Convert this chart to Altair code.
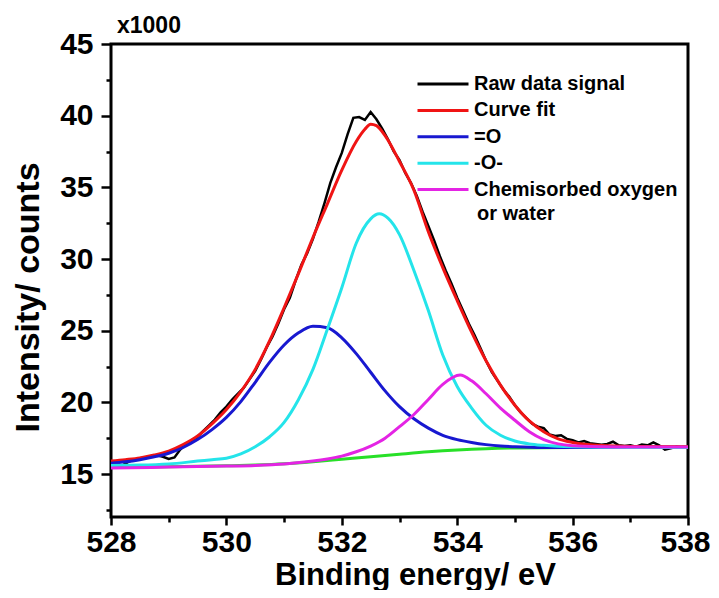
import altair as alt
import pandas as pd

# ---- data (intensity in units of 1000 counts) ----
raw_x = [528.0, 528.1, 528.2, 528.3, 528.4, 528.5, 528.6, 528.7, 528.8, 528.9,
         529.0, 529.1, 529.2, 529.3, 529.4, 529.5, 529.6, 529.7, 529.8, 529.9,
         530.0, 530.1, 530.2, 530.3, 530.4, 530.5, 530.6, 530.7, 530.8, 530.9,
         531.0, 531.1, 531.2, 531.3, 531.4, 531.5, 531.6, 531.7, 531.8, 531.9,
         532.0, 532.1, 532.2, 532.3, 532.4, 532.5, 532.6, 532.7, 532.8, 532.9,
         533.0, 533.1, 533.2, 533.3, 533.4, 533.5, 533.6, 533.7, 533.8, 533.9,
         534.0, 534.1, 534.2, 534.3, 534.4, 534.5, 534.6, 534.7, 534.8, 534.9,
         535.0, 535.1, 535.2, 535.3, 535.4, 535.5, 535.6, 535.7, 535.8, 535.9,
         536.0, 536.1, 536.2, 536.3, 536.4, 536.5, 536.6, 536.7, 536.8, 536.9,
         537.0, 537.1, 537.2, 537.3, 537.4, 537.5, 537.6, 537.7, 537.8, 537.9,
         538.0]
raw_y = [15.5, 15.45, 15.6, 15.85, 16.0, 16.1, 16.15, 16.25, 16.3, 16.2,
         16.05, 16.15, 16.7, 17.1, 17.35, 17.6, 18.0, 18.4, 18.8, 19.3,
         19.7, 20.2, 20.6, 21.0, 21.6, 22.2, 23.0, 23.85, 24.6, 25.5,
         26.5, 27.3, 28.5, 29.6, 30.4, 31.4, 32.6, 33.9, 35.3, 36.4,
         37.4, 38.7, 39.85, 39.9, 39.7, 40.25, 39.75, 39.1, 38.35, 37.5,
         36.9, 36.0, 35.3, 34.4, 33.3, 32.3, 31.3, 30.2, 29.2, 28.3,
         27.3, 26.4, 25.5, 24.7, 23.8, 22.9, 22.1, 21.5, 20.9, 20.4,
         19.8, 19.3, 18.9, 18.5, 18.3, 18.2, 17.75, 17.65, 17.7, 17.45,
         17.35, 17.2, 17.3, 17.15, 17.1, 17.05, 17.1, 17.25, 17.0, 16.95,
         17.0, 16.9, 17.05, 17.0, 17.2, 17.0, 16.7, 16.8, 16.9, 16.85,
         16.85]

fit_x = [528, 528.25, 528.5, 528.75, 529, 529.25, 529.5, 529.75, 530, 530.25,
         530.5, 530.75, 531, 531.25, 531.5, 531.75, 532, 532.25, 532.4, 532.5,
         532.6, 532.75, 533, 533.25, 533.5, 533.75, 534, 534.25, 534.5, 534.75,
         535, 535.25, 535.5, 535.75, 536, 536.5, 537, 538]
fit_y = [15.9, 16.0, 16.12, 16.32, 16.6, 17.05, 17.65, 18.5, 19.5, 20.75,
         22.3, 24.3, 26.6, 29.0, 31.5, 33.85, 36.2, 38.2, 39.05, 39.4,
         39.3, 38.6, 36.8, 34.8, 31.9, 29.4, 27.1, 24.9, 22.9, 21.2,
         19.8, 18.7, 17.95, 17.45, 17.2, 16.98, 16.92, 16.9]

o1_x = [528, 528.25, 528.5, 528.75, 529, 529.25, 529.5, 529.75, 530, 530.25,
        530.5, 530.75, 531, 531.25, 531.5, 531.75, 532, 532.25, 532.5, 532.75,
        533, 533.25, 533.5, 533.75, 534, 534.25, 534.5, 534.75, 535, 535.5,
        536, 537, 538]
o1_y = [15.75, 15.85, 16.0, 16.2, 16.45, 16.85, 17.4, 18.1, 18.95, 20.05,
        21.4, 22.8, 24.0, 24.85, 25.3, 25.2, 24.5, 23.4, 22.1, 20.8,
        19.7, 18.85, 18.2, 17.7, 17.4, 17.2, 17.05, 16.95, 16.9, 16.85,
        16.85, 16.85, 16.85]

o2_x = [528, 528.5, 529, 529.5, 529.75, 530, 530.25, 530.5, 530.75, 531,
        531.25, 531.5, 531.75, 532, 532.25, 532.5, 532.65, 532.8, 533, 533.25,
        533.5, 533.75, 534, 534.25, 534.5, 534.75, 535, 535.25, 535.5, 536,
        537, 538]
o2_y = [15.6, 15.62, 15.7, 15.9, 16.0, 16.1, 16.4, 16.9, 17.6, 18.6,
        20.2, 22.3, 25.1, 28.0, 31.1, 32.8, 33.15, 32.85, 31.7, 29.2,
        26.4, 23.3, 21.1, 19.6, 18.4, 17.7, 17.3, 17.1, 17.0, 16.9,
        16.85, 16.85]

chem_x = [528, 529, 530, 530.5, 531, 531.5, 531.75, 532, 532.25, 532.5,
          532.75, 533, 533.25, 533.5, 533.75, 534.05, 534.25, 534.5, 534.75, 535,
          535.25, 535.5, 535.75, 536, 536.5, 537, 538]
chem_y = [15.42, 15.48, 15.55, 15.6, 15.7, 15.9, 16.05, 16.25, 16.55, 16.95,
          17.5, 18.3, 19.15, 20.2, 21.25, 21.9, 21.5, 20.6, 19.6, 18.75,
          17.95, 17.4, 17.1, 16.97, 16.9, 16.88, 16.88]

bg_x = [528, 529, 530, 530.5, 531, 531.5, 532, 532.5, 533, 533.5,
        534, 534.5, 535, 536, 537, 538]
bg_y = [15.45, 15.5, 15.57, 15.63, 15.72, 15.86, 16.03, 16.2, 16.38, 16.55,
        16.68, 16.77, 16.82, 16.85, 16.87, 16.88]

series_names = ["Raw data signal", "Curve fit", "=O", "-O-", "Chemisorbed oxygen"]
series_colors = ["#000000", "#f01414", "#1818d0", "#24e4ea", "#e424e4"]
bg_color = "#28e028"

x_major = [528, 530, 532, 534, 536, 538]
x_minor = [529, 531, 533, 535, 537]
y_major = [15, 20, 25, 30, 35, 40, 45]
y_minor = [12.5, 17.5, 22.5, 27.5, 32.5, 37.5, 42.5]

FONT = "Liberation Sans"

xscale = alt.Scale(domain=[528, 538], nice=False, zero=False)
yscale = alt.Scale(domain=[12, 45], nice=False, zero=False)
cscale = alt.Scale(domain=series_names, range=series_colors)

x_axis_main = alt.Axis(orient="bottom", values=x_major, format="d", domain=False, grid=False,
                       tickSize=8, tickWidth=2.5, tickColor="black",
                       labelFont=FONT, labelFontSize=30, labelFontWeight="bold", labelColor="black",
                       labelPadding=2, labelFlush=False, labelBound=False,
                       labelOffset={"condition": {"test": "datum.value === 538", "value": -3},
                                    "value": 0},
                       title="Binding energy/ eV", titleFont=FONT, titleFontSize=31,
                       titleFontWeight="bold", titleColor="black",
                       titleX=304, titleY=67, titleBaseline="alphabetic", titleAlign="center")
y_axis_main = alt.Axis(orient="left", values=y_major, format="d", domain=False, grid=False,
                       tickSize=10, tickWidth=2.5, tickColor="black",
                       labelFont=FONT, labelFontSize=30, labelFontWeight="bold", labelColor="black",
                       labelPadding=8, labelFlush=False,
                       title="Intensity/ counts", titleFont=FONT, titleFontSize=34,
                       titleFontWeight="bold", titleColor="black",
                       titleX=-73, titleY=253, titleBaseline="alphabetic", titleAngle=270,
                       titleAlign="center")
x_axis_minor = alt.Axis(orient="bottom", values=x_minor, domain=False, grid=False, labels=False,
                        tickSize=5, tickWidth=2.5, tickColor="black", title=None)
y_axis_minor = alt.Axis(orient="left", values=y_minor, domain=False, grid=False, labels=False,
                        tickSize=5, tickWidth=2.5, tickColor="black", title=None)

legend = alt.Legend(orient="none", legendX=322, legendY=30, title=None, padding=0,
                    symbolType="M-4,0H4", symbolSize=162.6, symbolStrokeWidth=3,
                    labelFont=FONT, labelFontSize=20, labelFontWeight="bold", labelColor="black",
                    labelOffset=21, rowPadding=6.4, labelLimit=400)


def line_layer(xs, ys, name, width=3, axes=False, interp="monotone"):
    df = pd.DataFrame({"E": xs, "I": ys, "series": name})
    return alt.Chart(df).mark_line(strokeWidth=width, interpolate=interp).encode(
        x=alt.X("E:Q", scale=xscale, axis=x_axis_main if axes else None),
        y=alt.Y("I:Q", scale=yscale, axis=y_axis_main if axes else None),
        color=alt.Color("series:N", scale=cscale, legend=legend),
    )


bg_df = pd.DataFrame({"E": bg_x, "I": bg_y})
bg = alt.Chart(bg_df).mark_line(strokeWidth=3, color=bg_color, interpolate="monotone").encode(
    x=alt.X("E:Q", scale=xscale, axis=x_axis_minor),
    y=alt.Y("I:Q", scale=yscale, axis=y_axis_minor),
)

raw = line_layer(raw_x, raw_y, "Raw data signal", width=2.5, axes=True, interp="linear")
fit = line_layer(fit_x, fit_y, "Curve fit")
o1 = line_layer(o1_x, o1_y, "=O")
o2 = line_layer(o2_x, o2_y, "-O-")
chem = line_layer(chem_x, chem_y, "Chemisorbed oxygen")

note = alt.Chart(pd.DataFrame({"t": ["or water"]})).mark_text(
    align="left", baseline="middle", font=FONT, fontSize=20, fontWeight="bold", color="black"
).encode(x=alt.value(366), y=alt.value(170), text="t:N")

scale_note = alt.Chart(pd.DataFrame({"t": ["x1000"]})).mark_text(
    align="left", baseline="alphabetic", font=FONT, fontSize=23, fontWeight="bold", color="black"
).encode(x=alt.value(6), y=alt.value(-11), text="t:N")

chart = alt.layer(bg, raw, fit, o1, o2, chem, note, scale_note).resolve_axis(
    x="independent", y="independent"
).properties(
    width=577, height=473,
    autosize=alt.AutoSizeParams(type="none"),
    padding={"left": 103, "top": 36, "right": 23, "bottom": 73},
    background="white",
).configure_view(stroke="black", strokeWidth=3)

chart.save("out.html", embed_options={"renderer": "svg", "actions": False})
